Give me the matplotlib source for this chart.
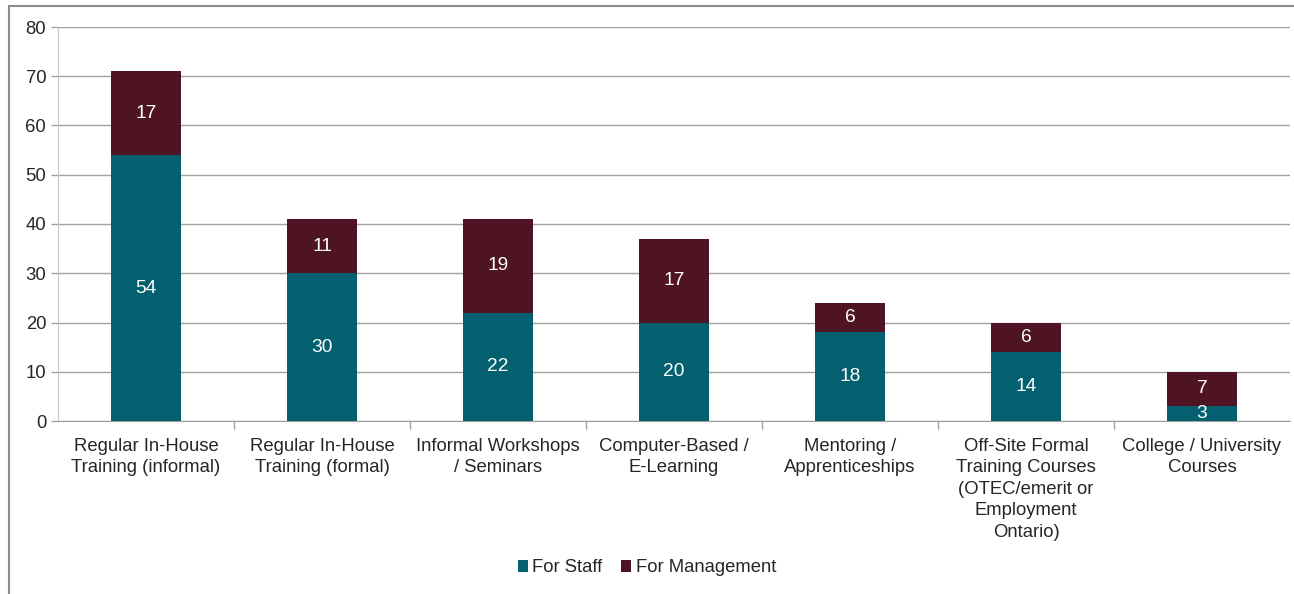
import matplotlib.pyplot as plt
from matplotlib.patches import Rectangle
import numpy as np

plt.rcParams['font.family'] = ['Liberation Sans', 'DejaVu Sans']

categories = ['Regular In-House\nTraining (informal)', 'Regular In-House\nTraining (formal)',
              'Informal Workshops\n/ Seminars', 'Computer-Based /\nE-Learning',
              'Mentoring /\nApprenticeships',
              'Off-Site Formal\nTraining Courses\n(OTEC/emerit or\nEmployment\nOntario)',
              'College / University\nCourses']
staff = [54, 30, 22, 20, 18, 14, 3]
management = [17, 11, 19, 17, 6, 6, 7]

staff_col = '#04606F'
mgmt_col = '#4F1424'
text_col = '#262626'
fs = 13.3

fig = plt.figure(figsize=(12.94, 5.94), dpi=100)
ax = fig.add_axes([58/1294, 1-421/594, 1232/1294, 394/594])

x = np.arange(len(categories))
b1 = ax.bar(x, staff, width=0.4, color=staff_col, label='For Staff', zorder=3)
b2 = ax.bar(x, management, width=0.4, bottom=staff, color=mgmt_col, label='For Management', zorder=3)

for vals, bots in [(staff, [0]*len(staff)), (management, staff)]:
    for xi, v, b in zip(x, vals, bots):
        ax.text(xi, b + v/2, str(v), ha='center', va='center', color='white', fontsize=fs + 0.5, zorder=4)

ax.set_xlim(-0.5, len(categories) - 0.5)
ax.set_ylim(0, 80)
ax.set_yticks(range(0, 81, 10))
ax.yaxis.grid(True, color='#A0A0A0', linewidth=1)
ax.set_axisbelow(True)
for s in ['top', 'right']:
    ax.spines[s].set_visible(False)
ax.spines['left'].set_color('#C8C8C8')
ax.spines['bottom'].set_color('#A0A0A0')
ax.tick_params(axis='y', colors='#A0A0A0', labelcolor=text_col, labelsize=fs, length=5, width=1)
ax.set_xticks(x)
ax.set_xticklabels(categories, fontsize=fs, color=text_col, va='top', linespacing=1.35)
ax.tick_params(axis='x', length=0, pad=12)
ax.set_xticks(np.arange(0.5, len(categories) - 0.5, 1), minor=True)
ax.tick_params(axis='x', which='minor', length=6, color='#A0A0A0', width=1)

ax.legend(loc='center', bbox_to_anchor=(0.5, (594-568)/594), bbox_transform=fig.transFigure,
          ncol=2, frameon=False, fontsize=fs, handlelength=0.55, handleheight=0.55,
          handletextpad=0.25, columnspacing=1.0, labelcolor=text_col)

fig.patches.append(Rectangle((9/1294, -0.01), 1.02, 1 - 6/594 + 0.01, transform=fig.transFigure,
                             fill=False, edgecolor='#8C8C8C', linewidth=1.5))

fig.savefig('out.png', dpi=100)
